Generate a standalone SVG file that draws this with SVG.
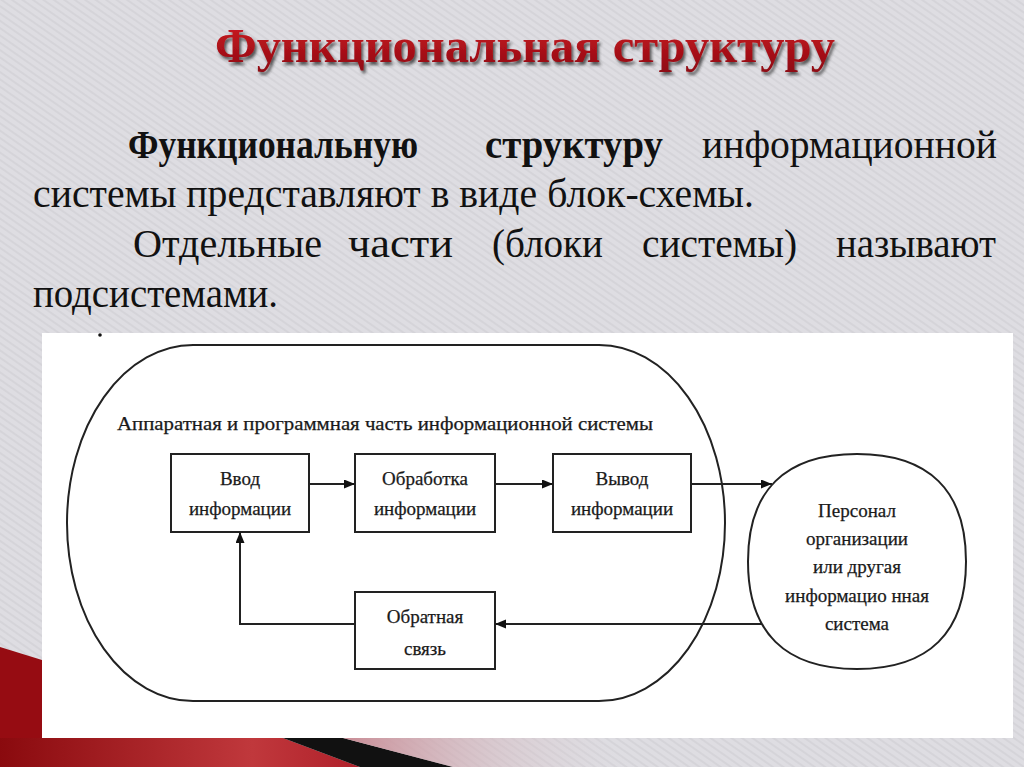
<svg xmlns="http://www.w3.org/2000/svg" width="1024" height="767" viewBox="0 0 1024 767">
  <style>
    .body { font-family: "Liberation Serif", "DejaVu Serif", serif; font-size: 39px; fill: #111; }
    .b { font-weight: bold; }
    .dg { font-family: "Liberation Serif", "DejaVu Serif", serif; font-size: 19px; fill: #1a1a1a; stroke: #1a1a1a; stroke-width: 0.25; }
    .mid { text-anchor: middle; }
    .box { fill: #fff; stroke: #222; stroke-width: 2; }
    .line { fill: none; stroke: #222; stroke-width: 2; }
  </style>
  <defs>
    <pattern id="tex" width="6" height="6" patternUnits="userSpaceOnUse" patternTransform="rotate(-55)">
      <rect width="6" height="6" fill="#dedde2"/>
      <rect width="2" height="6" fill="#d5d4d9"/>
    </pattern>
    <linearGradient id="titleG" x1="0" y1="0" x2="0" y2="1">
      <stop offset="0" stop-color="#d11a24"/>
      <stop offset="1" stop-color="#8e0b12"/>
    </linearGradient>
    <linearGradient id="redG" x1="0" y1="0" x2="1" y2="0">
      <stop offset="0" stop-color="#8a0a0e"/>
      <stop offset="0.7" stop-color="#c0383c"/>
      <stop offset="1" stop-color="#b0202a"/>
    </linearGradient>
    <linearGradient id="pinkG" x1="0" y1="0" x2="1" y2="0">
      <stop offset="0" stop-color="#c98c95"/>
      <stop offset="1" stop-color="#dedde2" stop-opacity="0"/>
    </linearGradient>
    <filter id="shadow" x="-5%" y="-20%" width="110%" height="150%">
      <feDropShadow dx="2" dy="3" stdDeviation="1.8" flood-color="#2a2a2a" flood-opacity="0.75"/>
    </filter>
    <marker id="arr" markerUnits="userSpaceOnUse" markerWidth="12" markerHeight="10" refX="11" refY="4.5" orient="auto">
      <path d="M0,0 L11,4.5 L0,9 z" fill="#111"/>
    </marker>
  </defs>

  <!-- background -->
  <rect width="1024" height="767" fill="url(#tex)"/>

  <!-- bottom decoration -->
  <g id="decor">
    <polygon points="0,647 42,660 42,738 0,738" fill="#960c12"/>
    <polygon points="0,738 283,738 360,767 0,767" fill="url(#redG)"/>
    <polygon points="283,738 343,738 453,767 360,767" fill="#111"/>
    <polygon points="343,738 600,738 640,767 453,767" fill="url(#pinkG)"/>
  </g>

  <!-- title -->
  <text id="title" x="215" y="62" textLength="620" lengthAdjust="spacingAndGlyphs" font-family="'Liberation Serif', 'DejaVu Serif', serif" font-size="48" font-weight="bold" fill="url(#titleG)" filter="url(#shadow)">Функциональная структуру</text>

  <!-- body text -->
  <g id="bodytext">
    <text class="body b" x="128" y="158" textLength="290" lengthAdjust="spacingAndGlyphs">Функциональную</text>
    <text class="body b" x="485" y="158" textLength="178" lengthAdjust="spacingAndGlyphs">структуру</text>
    <text class="body" x="702" y="158" textLength="295" lengthAdjust="spacingAndGlyphs">информационной</text>
    <text class="body" x="33" y="207" textLength="721" lengthAdjust="spacingAndGlyphs">системы представляют в виде блок-схемы.</text>
    <text class="body" x="133" y="257" textLength="189" lengthAdjust="spacingAndGlyphs">Отдельные</text>
    <text class="body" x="348" y="257" textLength="105" lengthAdjust="spacingAndGlyphs">части</text>
    <text class="body" x="492" y="257" textLength="111" lengthAdjust="spacingAndGlyphs">(блоки</text>
    <text class="body" x="642" y="257" textLength="155" lengthAdjust="spacingAndGlyphs">системы)</text>
    <text class="body" x="836" y="257" textLength="160" lengthAdjust="spacingAndGlyphs">называют</text>
    <text class="body" x="33" y="307" textLength="245" lengthAdjust="spacingAndGlyphs">подсистемами.</text>
  </g>

  <!-- white panel -->
  <rect id="panel" x="42" y="333" width="971" height="405" fill="#ffffff"/>
  <circle cx="100" cy="335" r="1.8" fill="#111"/>

  <!-- system container -->
  <g id="system">
    <rect class="line" x="67" y="345" width="658" height="356" rx="126" ry="178"/>
    <text class="dg" x="117" y="430" font-size="20" textLength="536" lengthAdjust="spacingAndGlyphs">Аппаратная и программная часть информационной системы</text>
  </g>

  <g id="input">
    <rect class="box" x="171" y="454" width="138" height="78"/>
    <text class="dg mid" x="240" y="485">Ввод</text>
    <text class="dg mid" x="240" y="515">информации</text>
  </g>

  <g id="processing">
    <rect class="box" x="355" y="454" width="140" height="78"/>
    <text class="dg mid" x="425" y="485">Обработка</text>
    <text class="dg mid" x="425" y="515">информации</text>
  </g>

  <g id="output">
    <rect class="box" x="553" y="454" width="138" height="78"/>
    <text class="dg mid" x="622" y="485">Вывод</text>
    <text class="dg mid" x="622" y="515">информации</text>
  </g>

  <g id="feedback">
    <rect class="box" x="355" y="592" width="140" height="77"/>
    <text class="dg mid" x="425" y="623">Обратная</text>
    <text class="dg mid" x="425" y="655">связь</text>
  </g>

  <g id="personnel">
    <path class="line" d="M748,561.5 C748,490.5 785,454 857,454 C929,454 966,490.5 966,561.5 C966,632.5 929,669 857,669 C785,669 748,632.5 748,561.5 Z"/>
    <text class="dg mid" x="857" y="517">Персонал</text>
    <text class="dg mid" x="857" y="545">организации</text>
    <text class="dg mid" x="857" y="573">или другая</text>
    <text class="dg mid" x="857" y="602">информацио нная</text>
    <text class="dg mid" x="857" y="630">система</text>
  </g>

  <g id="connectors">
    <path class="line" d="M309,484 H355" marker-end="url(#arr)"/>
    <path class="line" d="M495,484 H553" marker-end="url(#arr)"/>
    <path class="line" d="M691,484 H772" marker-end="url(#arr)"/>
    <path class="line" d="M762,624 H495" marker-end="url(#arr)"/>
    <path class="line" d="M355,624 H240 V532" marker-end="url(#arr)"/>
  </g>
</svg>
